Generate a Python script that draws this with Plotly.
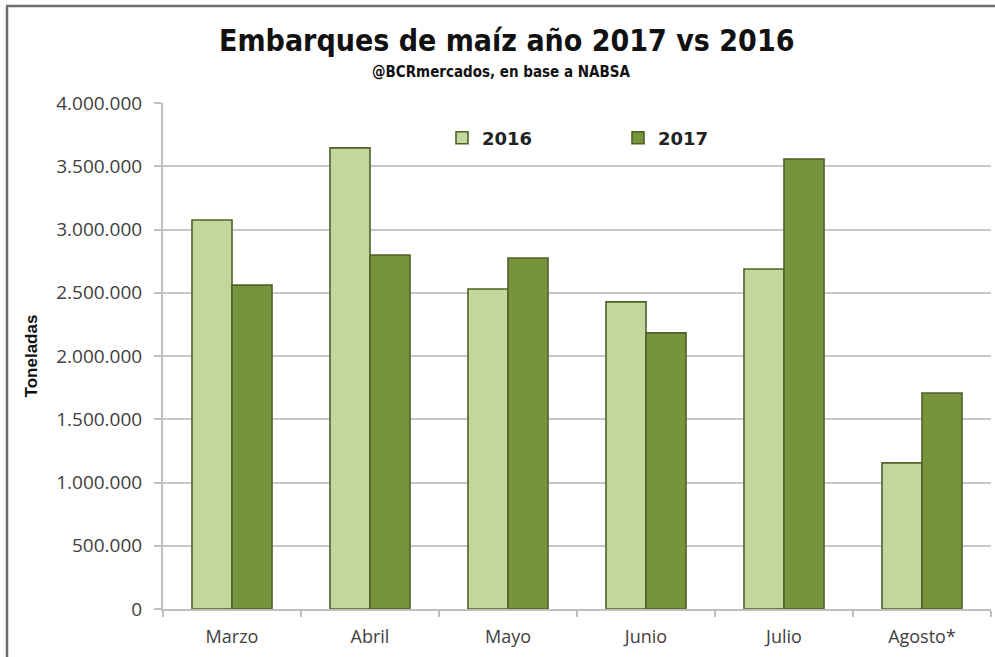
import plotly.graph_objects as go

months = ["Marzo", "Abril", "Mayo", "Junio", "Julio", "Agosto*"]
values_2016 = [3075000, 3645000, 2530000, 2428000, 2688000, 1155000]
values_2017 = [2560000, 2798000, 2775000, 2183000, 3557000, 1708000]
y_ticks = [0, 500000, 1000000, 1500000, 2000000, 2500000, 3000000, 3500000, 4000000]

edge = "#4F6228"
fig = go.Figure()
fig.add_trace(go.Bar(name="2016", x=months, y=values_2016,
                     marker=dict(color="#C3D69B", line=dict(color=edge, width=1.6))))
fig.add_trace(go.Bar(name="2017", x=months, y=values_2017,
                     marker=dict(color="#77933C", line=dict(color=edge, width=1.6))))

W, H = 995, 657
L, R, T, B = 163, 4, 103, 48
ph = H - T - B
pw = W - L - R

def py2paper(py):
    return (H - B - py) / ph

def px2paper(px):
    return (px - L) / pw

cond = "DejaVu Sans Condensed, Liberation Sans Narrow, sans-serif"

fig.update_layout(
    width=W, height=H,
    margin=dict(l=L, r=R, t=T, b=B),
    paper_bgcolor="white", plot_bgcolor="white",
    separators=",.",
    barmode="group", bargap=0.42, bargroupgap=0,
    font=dict(family="Open Sans", color="#404040"),
    showlegend=True,
    legend=dict(orientation="h", x=px2paper(442), y=py2paper(138),
                xanchor="left", yanchor="middle", bgcolor="rgba(0,0,0,0)",
                font=dict(family="DejaVu Sans", size=18, color="#222222", weight="bold"),
                entrywidth=131, entrywidthmode="pixels", traceorder="normal"),
    annotations=[
        dict(text="<b>Embarques de maíz año 2017 vs 2016</b>", xref="paper", yref="paper",
             x=px2paper(506), y=py2paper(40), showarrow=False,
             xanchor="center", yanchor="middle",
             font=dict(family=cond, size=30, color="#111111")),
        dict(text="<b>@BCRmercados, en base a NABSA</b>", xref="paper", yref="paper",
             x=px2paper(501), y=py2paper(72), showarrow=False,
             xanchor="center", yanchor="middle",
             font=dict(family=cond, size=15, color="#111111")),
    ],
    shapes=[
        dict(type="line", xref="paper", yref="paper",
             x0=px2paper(6), x1=px2paper(995), y0=py2paper(6), y1=py2paper(6),
             line=dict(color="#6E6E6E", width=2.5)),
        dict(type="line", xref="paper", yref="paper",
             x0=px2paper(7), x1=px2paper(7), y0=py2paper(6), y1=py2paper(657),
             line=dict(color="#6E6E6E", width=2.5)),
    ],
)

fig.update_yaxes(range=[0, 4000000], tickvals=y_ticks, tickformat=",.0f",
                 showgrid=True, gridcolor="#C8C8C8", gridwidth=2,
                 zeroline=False, showline=True, linecolor="#BFBFBF", linewidth=2,
                 ticks="outside", ticklen=7, tickcolor="#BFBFBF", tickwidth=2,
                 ticklabelstandoff=8,
                 tickfont=dict(family="Open Sans", size=19, color="#404040"),
                 title=dict(text="<b>Toneladas</b>", standoff=14,
                            font=dict(family="Liberation Sans", size=17, color="#111111")))
fig.update_xaxes(showline=True, linecolor="#BFBFBF", linewidth=2,
                 ticks="outside", tickson="boundaries", ticklen=6, tickcolor="#BFBFBF", tickwidth=2,
                 ticklabelstandoff=10,
                 tickfont=dict(family="Open Sans", size=18, color="#404040"))

fig.write_html("out.html", post_script="document.body.style.margin='0px';",
               config={"displayModeBar": False})
